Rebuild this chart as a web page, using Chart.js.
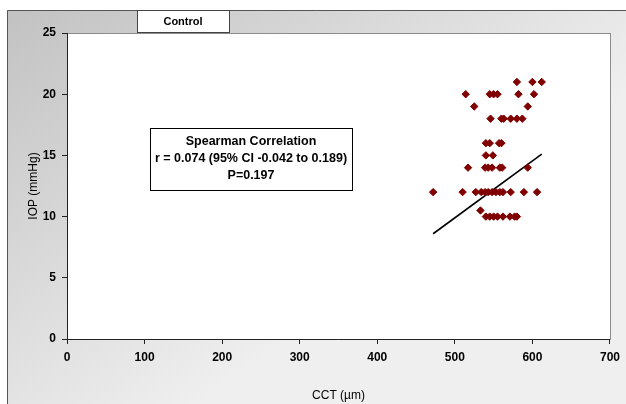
<!DOCTYPE html>
<html>
<head>
<meta charset="utf-8">
<script src="https://cdn.jsdelivr.net/npm/chart.js@4.4.1/dist/chart.umd.min.js"></script>
<style>
  html, body { margin: 0; padding: 0; background: #fff; overflow: hidden; }
</style>
</head>
<body>
<canvas id="chart" width="626" height="404"></canvas>
<script>
// Control group: IOP against central corneal thickness

// Scatter points
const cctValues = [
    580, 600, 612,
    514, 545, 550, 555, 582, 602,
    525, 594,
    546, 560, 563, 572, 580, 587,
    540, 545, 557, 560,
    540, 549,
    517, 539, 543, 548, 558, 561, 594,
    472, 510, 527, 534, 539, 543, 548, 553, 558, 562, 572, 589, 606,
    533,
    540, 545, 550, 555, 562, 571, 577, 580
];
const iopValues = [
    21, 21, 21,
    20, 20, 20, 20, 20, 20,
    19, 19,
    18, 18, 18, 18, 18, 18,
    16, 16, 16, 16,
    15, 15,
    14, 14, 14, 14, 14, 14, 14,
    12, 12, 12, 12, 12, 12, 12, 12, 12, 12, 12, 12, 12,
    10.5,
    10, 10, 10, 10, 10, 10, 10, 10
];

// Trend line end points
const fitCct = [472, 612];
const fitIop = [8.6, 15.1];

const xTicks = [0, 100, 200, 300, 400, 500, 600, 700];
const yTicks = [0, 5, 10, 15, 20, 25];

const chartTitle = 'Control';
const statsLines = [
    'Spearman Correlation',
    'r = 0.074 (95% CI -0.042 to 0.189)',
    'P=0.197'
];

const FONT = "'Liberation Sans', Arial, sans-serif";

// Grey frame behind the chart, white plot area
const framePlugin = {
    id: 'frame',
    beforeDraw(chart) {
        const { ctx, chartArea } = chart;
        ctx.save();
        const grad = ctx.createLinearGradient(7, 10, 260, 360);
        grad.addColorStop(0, '#c2c2c2');
        grad.addColorStop(1, '#efefef');
        ctx.fillStyle = grad;
        ctx.fillRect(7, 10, 626 - 7, 404 - 10);
        ctx.strokeStyle = '#555';
        ctx.lineWidth = 1;
        ctx.beginPath();
        ctx.moveTo(7.5, 404);
        ctx.lineTo(7.5, 10.5);
        ctx.lineTo(626, 10.5);
        ctx.stroke();

        ctx.fillStyle = '#fff';
        ctx.fillRect(chartArea.left, chartArea.top, chartArea.width, chartArea.height);
        ctx.strokeStyle = '#8c8c8c';
        ctx.strokeRect(chartArea.left + 0.5, chartArea.top + 0.5, chartArea.width, chartArea.height);
        ctx.restore();
    },
    afterDraw(chart) {
        const { ctx } = chart;
        ctx.save();
        // title tab
        ctx.fillStyle = '#fff';
        ctx.fillRect(137, 10, 92, 22);
        ctx.strokeStyle = '#444';
        ctx.lineWidth = 1;
        ctx.strokeRect(137.5, 10.5, 92, 22);
        ctx.fillStyle = '#000';
        ctx.font = 'bold 11px ' + FONT;
        ctx.textAlign = 'center';
        ctx.textBaseline = 'middle';
        ctx.fillText(chartTitle, 183, 21.5);

        // statistics box
        ctx.fillStyle = '#fff';
        ctx.fillRect(150, 128, 202, 62);
        ctx.strokeStyle = '#000';
        ctx.strokeRect(150.5, 128.5, 202, 62);
        ctx.fillStyle = '#000';
        ctx.font = 'bold 12.5px ' + FONT;
        statsLines.forEach((line, i) => {
            ctx.fillText(line, 251, 142 + i * 17);
        });
        ctx.restore();
    }
};

new Chart(document.getElementById('chart'), {
    type: 'scatter',
    data: {
        datasets: [
            {
                type: 'scatter',
                data: cctValues.map((x, i) => ({ x: x, y: iopValues[i] })),
                pointStyle: 'rectRot',
                pointRadius: 3.7,
                backgroundColor: '#800000',
                borderColor: '#800000',
                borderWidth: 1
            },
            {
                type: 'line',
                data: fitCct.map((x, i) => ({ x: x, y: fitIop[i] })),
                borderColor: '#000',
                borderWidth: 1.6,
                pointRadius: 0,
                fill: false
            }
        ]
    },
    options: {
        responsive: false,
        animation: false,
        layout: {
            padding: { left: 0, right: 16, top: 33, bottom: 0 }
        },
        plugins: {
            legend: { display: false },
            tooltip: { enabled: false }
        },
        scales: {
            x: {
                type: 'linear',
                min: 0,
                max: 700,
                afterBuildTicks: scale => { scale.ticks = xTicks.map(v => ({ value: v })); },
                afterFit: scale => { scale.height = 65; },
                border: { color: '#222', width: 1 },
                grid: { drawOnChartArea: false, drawTicks: true, tickLength: 5, color: '#222' },
                ticks: {
                    color: '#000',
                    padding: 6,
                    font: { family: FONT, size: 12, weight: 'bold' }
                },
                title: {
                    display: true,
                    text: 'CCT (µm)',
                    color: '#000',
                    padding: { top: 0, bottom: 1 },
                    font: { family: FONT, size: 12 }
                }
            },
            y: {
                type: 'linear',
                min: 0,
                max: 25,
                afterBuildTicks: scale => { scale.ticks = yTicks.map(v => ({ value: v })); },
                afterFit: scale => { scale.width = 67; },
                border: { color: '#222', width: 1 },
                grid: { drawOnChartArea: false, drawTicks: true, tickLength: 5, color: '#222' },
                ticks: {
                    color: '#000',
                    padding: 6,
                    font: { family: FONT, size: 12, weight: 'bold' }
                },
                title: {
                    display: true,
                    text: 'IOP (mmHg)',
                    color: '#000',
                    padding: { top: 26, bottom: 0 },
                    font: { family: FONT, size: 12 }
                }
            }
        }
    },
    plugins: [framePlugin]
});
</script>
</body>
</html>
